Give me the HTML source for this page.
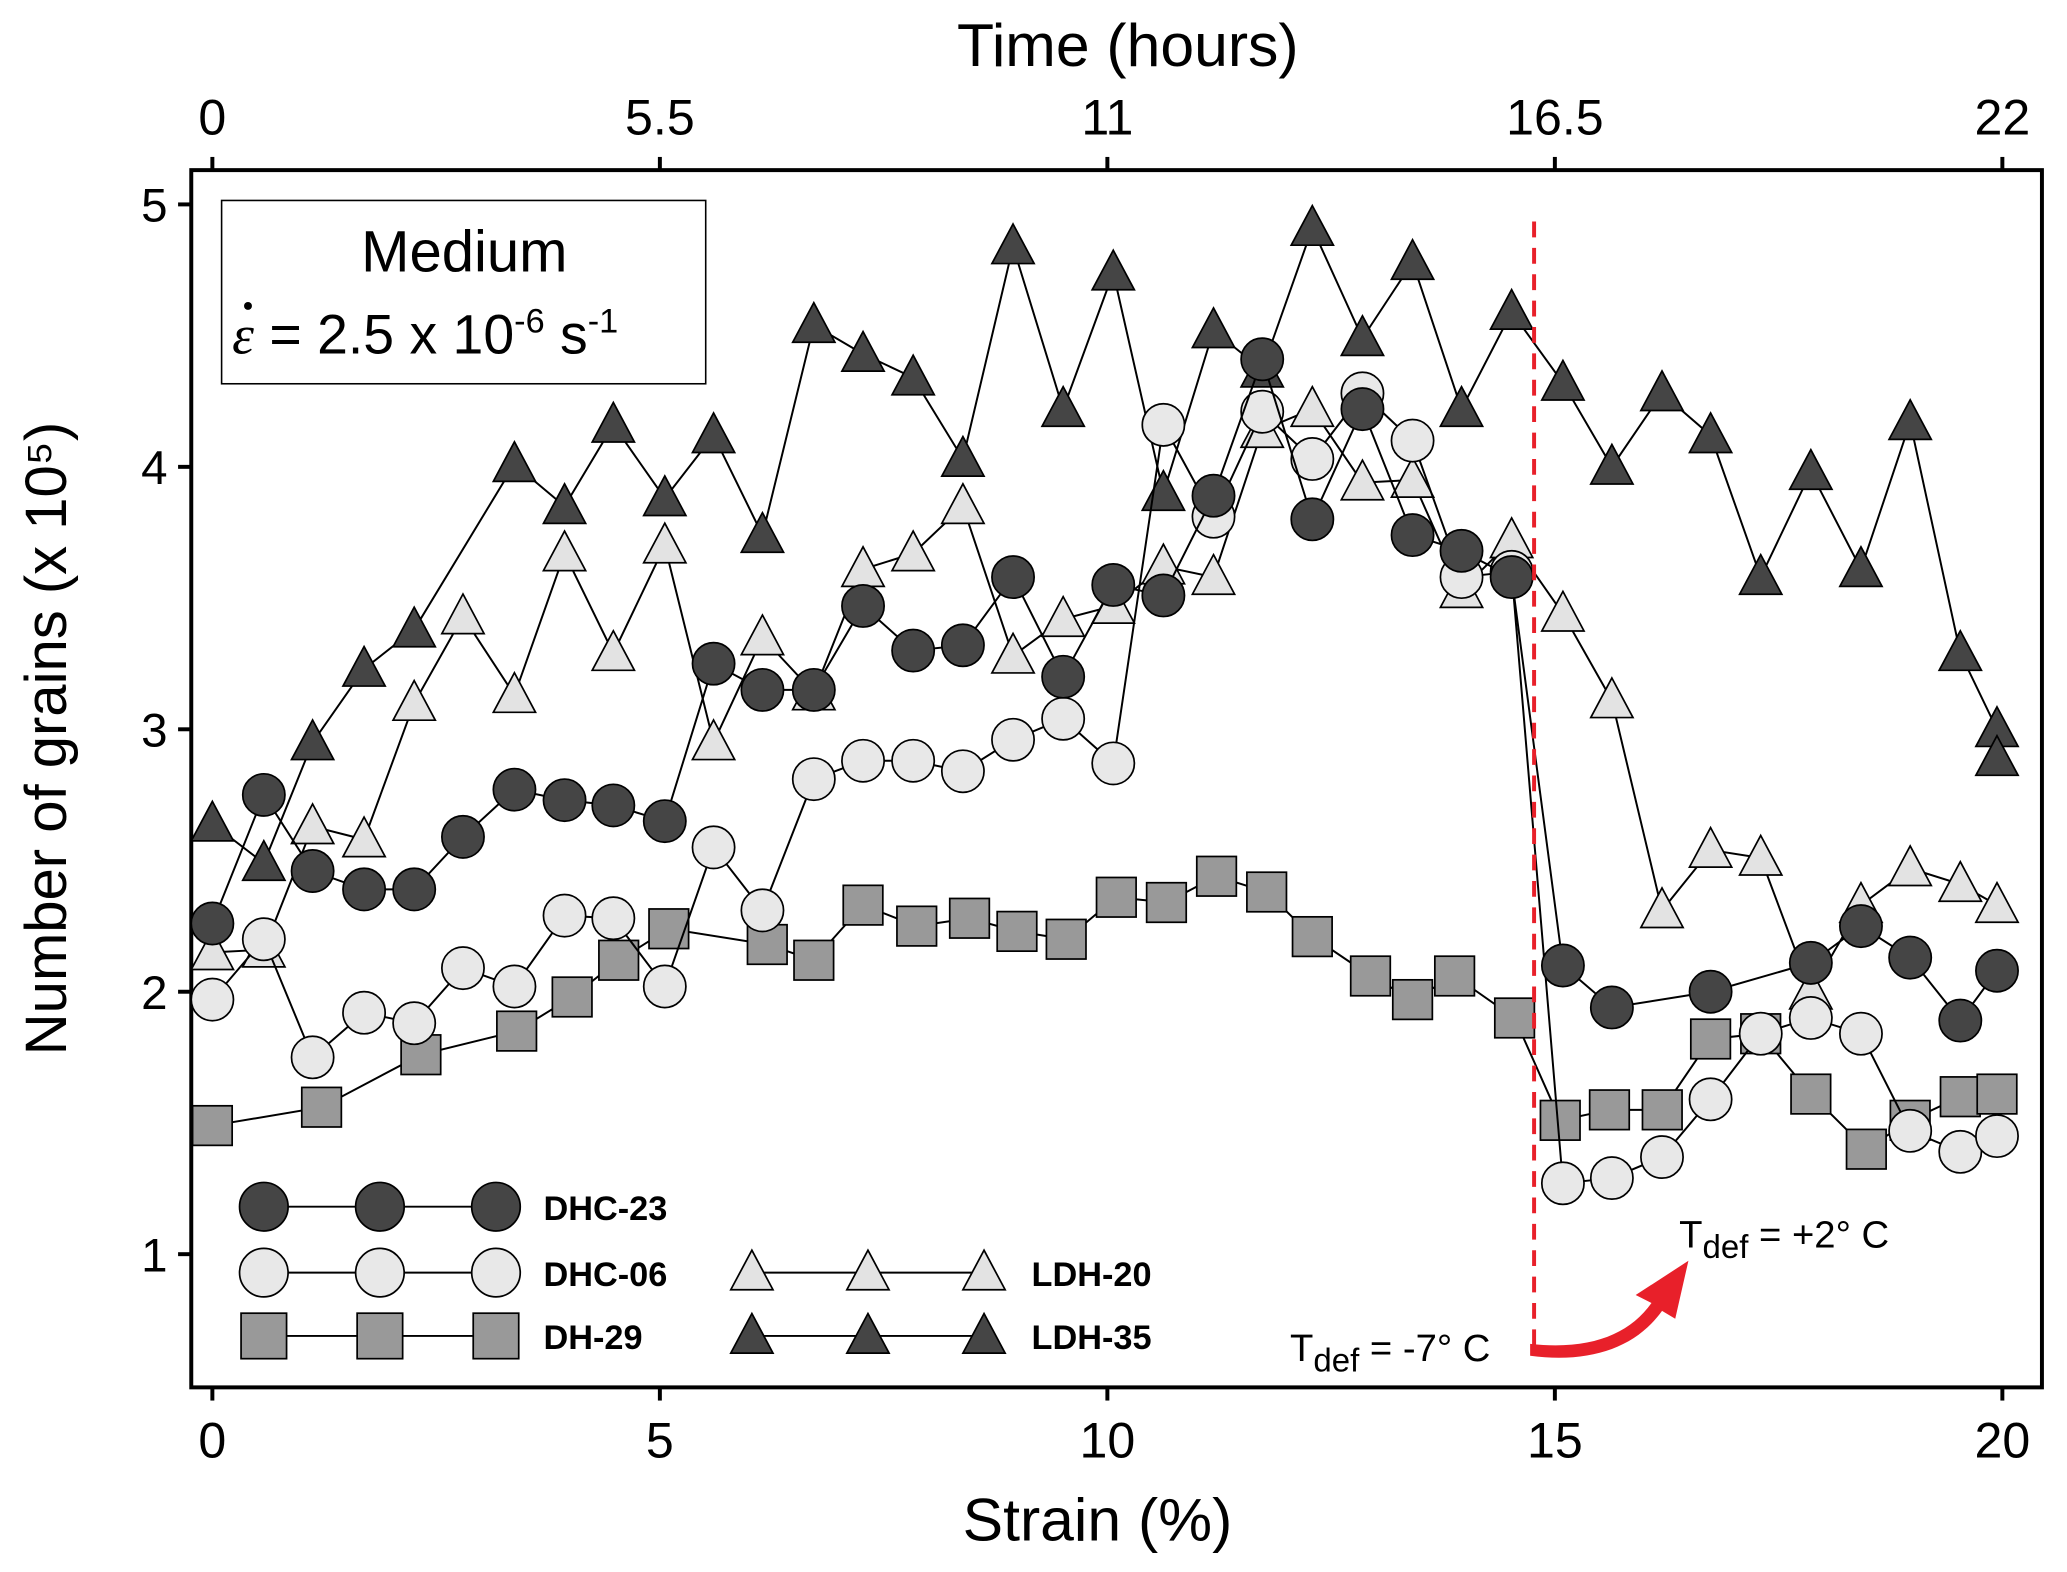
<!DOCTYPE html>
<html><head><meta charset="utf-8"><style>
html,body{margin:0;padding:0;background:#fff}
svg{display:block}
text{font-family:"Liberation Sans",Arial,sans-serif}
</style></head><body>
<svg id="chart" width="2067" height="1572" viewBox="0 0 1567 1192" preserveAspectRatio="none" xmlns="http://www.w3.org/2000/svg">
<rect x="0" y="0" width="1567" height="1192" fill="#fff"/>
<rect x="145" y="129" width="1403" height="923" fill="none" stroke="#000" stroke-width="3"/>
<g id="axes"></g>
<g id="series"></g>
<text x="855" y="50" font-size="46" text-anchor="middle">Time (hours)</text>
<text x="832" y="1168" font-size="46" text-anchor="middle">Strain (%)</text>
<text transform="translate(50,560) rotate(-90)" font-size="44" text-anchor="middle">Number of grains (x 10⁵)</text>
<g>
<rect x="168" y="152" width="367" height="139" fill="#fff" stroke="#000" stroke-width="1.2"/>
<text x="352" y="206" font-size="44" text-anchor="middle">Medium</text>
<text x="176" y="268" font-size="42"><tspan font-family="Liberation Serif" font-style="italic">ε</tspan> = 2.5 x 10<tspan dy="-16" font-size="26">-6</tspan><tspan dy="16"> s</tspan><tspan dy="-16" font-size="26">-1</tspan></text>
<circle cx="188" cy="232" r="3" fill="#000"/>
</g>
<line x1="1163" y1="168" x2="1163" y2="1025" stroke="#e8202a" stroke-width="3" stroke-dasharray="12,8"/>
<path d="M1160,1019 C1205,1024 1235,1012 1252,988 L1240,982 L1280,956 L1270,1000 L1260,994 C1240,1022 1205,1034 1160,1028 Z" fill="#e8202a"/>
<text x="978" y="1032" font-size="29">T<tspan font-size="25" dy="8">def</tspan><tspan dy="-8"> = -7° C</tspan></text>
<text x="1273" y="946" font-size="29">T<tspan font-size="25" dy="8">def</tspan><tspan dy="-8"> = +2° C</tspan></text>
<g id="legend"></g>
</svg>
<script>
const xTicks=[0,5,10,15,20];
const yTicks=[1,2,3,4,5];
const topTicks=[0,5.5,11,16.5,22];

const dhc23X=[0,0.575,1.12,1.695,2.255,2.8,3.375,3.935,4.48,5.055,5.6,6.146,6.72,7.27,7.83,8.386,8.946,9.506,10.066,10.626,11.186,11.73,12.29,12.85,13.41,13.957,14.517,15.09,15.637,16.74,17.86,18.42,18.97,19.53,19.94];
const dhc23Y=[2.26,2.75,2.46,2.39,2.39,2.59,2.77,2.73,2.71,2.65,3.25,3.15,3.15,3.47,3.3,3.32,3.58,3.2,3.55,3.51,3.89,4.41,3.8,4.22,3.74,3.68,3.58,2.1,1.94,2.0,2.11,2.25,2.13,1.89,2.08];
const dhc06X=[0,0.575,1.12,1.695,2.255,2.8,3.375,3.935,4.48,5.055,5.6,6.146,6.72,7.27,7.83,8.386,8.946,9.506,10.066,10.626,11.186,11.73,12.29,12.85,13.41,13.957,14.517,15.09,15.637,16.197,16.74,17.3,17.86,18.42,18.97,19.53,19.94];
const dhc06Y=[1.97,2.2,1.75,1.92,1.88,2.09,2.02,2.29,2.28,2.02,2.55,2.31,2.81,2.88,2.88,2.84,2.96,3.04,2.87,4.16,3.81,4.21,4.03,4.28,4.1,3.58,3.6,1.27,1.29,1.37,1.59,1.84,1.9,1.84,1.47,1.39,1.45];
const dh29X=[0,1.22,2.33,3.4,4.02,4.54,5.1,6.2,6.72,7.27,7.87,8.46,8.99,9.54,10.1,10.66,11.22,11.78,12.29,12.94,13.41,13.88,14.55,15.06,15.61,16.2,16.74,17.3,17.86,18.48,18.97,19.53,19.94];
const dh29Y=[1.49,1.56,1.76,1.85,1.98,2.12,2.24,2.18,2.12,2.33,2.25,2.28,2.23,2.2,2.36,2.34,2.44,2.38,2.21,2.06,1.97,2.06,1.9,1.51,1.55,1.55,1.82,1.84,1.61,1.4,1.51,1.6,1.61];
const ldh20X=[0,0.575,1.12,1.695,2.255,2.8,3.375,3.935,4.48,5.055,5.6,6.146,6.72,7.27,7.83,8.386,8.946,9.506,10.066,10.626,11.186,11.73,12.29,12.85,13.41,13.957,14.517,15.09,15.637,16.197,16.74,17.3,17.86,18.42,18.97,19.53,19.94];
const ldh20Y=[2.15,2.16,2.63,2.58,3.1,3.43,3.13,3.67,3.29,3.7,2.95,3.35,3.14,3.61,3.67,3.85,3.28,3.42,3.47,3.62,3.58,4.14,4.22,3.94,3.95,3.53,3.72,3.44,3.11,2.31,2.54,2.51,2.0,2.33,2.47,2.41,2.33];
const ldh35X=[0,0.575,1.12,1.695,2.255,3.375,3.935,4.48,5.055,5.6,6.146,6.72,7.27,7.83,8.386,8.946,9.506,10.066,10.626,11.186,11.73,12.29,12.85,13.41,13.957,14.517,15.09,15.637,16.197,16.74,17.3,17.86,18.42,18.97,19.53,19.94,19.94];
const ldh35Y=[2.64,2.49,2.95,3.23,3.38,4.01,3.85,4.16,3.88,4.12,3.74,4.54,4.43,4.34,4.03,4.84,4.22,4.74,3.9,4.52,4.37,4.91,4.49,4.78,4.22,4.59,4.32,4.0,4.28,4.12,3.58,3.98,3.61,4.17,3.29,3.0,2.89];

const NS='http://www.w3.org/2000/svg';
function X(s){return 161+s*(1518-161)/20;}
function XT(h){return 161+h*(1518-161)/22;}
function Y(v){return 155+(5-v)*199;}
function mk(tag,attrs,parent){const e=document.createElementNS(NS,tag);for(const k in attrs)e.setAttribute(k,attrs[k]);parent.appendChild(e);return e;}
const axes=document.getElementById('axes');
xTicks.forEach(t=>{
  const l=mk('line',{x1:X(t),x2:X(t),y1:1052,y2:1062,stroke:'#000','stroke-width':3},axes);
  
  
  const tx=mk('text',{x:X(t),y:1105,'font-size':38,'text-anchor':'middle'},axes);
  tx.textContent=t;
  
  
});
yTicks.forEach(t=>{
  const l=mk('line',{x1:135,x2:145,y1:Y(t),y2:Y(t),stroke:'#000','stroke-width':3},axes);
  
  
  const tx=mk('text',{x:127,y:Y(t)+13,'font-size':36,'text-anchor':'end'},axes);
  tx.textContent=t;
  
  
});
topTicks.forEach(t=>{
  const l=mk('line',{x1:XT(t),x2:XT(t),y1:119,y2:129,stroke:'#000','stroke-width':3},axes);
  
  
  const tx=mk('text',{x:XT(t),y:102,'font-size':38,'text-anchor':'middle'},axes);
  tx.textContent=t;
  
  
});
function marker(kind,fill,cx,cy,parent,sz){
  sz=sz||1;
  let e;
  if(kind==='circle')e=mk('circle',{cx:cx,cy:cy,r:16*sz,fill:fill,stroke:'#000','stroke-width':1.3},parent);
  else if(kind==='square')e=mk('rect',{x:cx-15*sz,y:cy-15*sz,width:30*sz,height:30*sz,fill:fill,stroke:'#000','stroke-width':1.3},parent);
  else e=mk('polygon',{points:(cx)+','+(cy-17*sz)+' '+(cx+16*sz)+','+(cy+13*sz)+' '+(cx-16*sz)+','+(cy+13*sz),fill:fill,stroke:'#000','stroke-width':1.3},parent);
  return e;
}
const seriesList=[
  {name:'ldh-35',xs:ldh35X,ys:ldh35Y,kind:'tri',fill:'#454545'},
  {name:'dh-29',xs:dh29X,ys:dh29Y,kind:'square',fill:'#999'},
  {name:'ldh-20',xs:ldh20X,ys:ldh20Y,kind:'tri',fill:'#e3e3e3'},
  {name:'dhc-06',xs:dhc06X,ys:dhc06Y,kind:'circle',fill:'#e8e8e8'},
  {name:'dhc-23',xs:dhc23X,ys:dhc23Y,kind:'circle',fill:'#454545'}
];
const sg=document.getElementById('series');
seriesList.forEach(s=>{
  const g=mk('g',{},sg);
  
  
  const pts=s.xs.map((x,i)=>X(x)+','+Y(s.ys[i])).join(' ');
  const pl=mk('polyline',{points:pts,fill:'none',stroke:'#000','stroke-width':1.5},g);
  
  
  s.xs.forEach((x,i)=>{
    const m=marker(s.kind,s.fill,X(x),Y(s.ys[i]),g);
    
    
  });
});
const lg=document.getElementById('legend');
const legendItems=[
  {label:'DHC-23',kind:'circle',fill:'#454545',x:200,y:915},
  {label:'DHC-06',kind:'circle',fill:'#e8e8e8',x:200,y:965},
  {label:'DH-29',kind:'square',fill:'#999',x:200,y:1013},
  {label:'LDH-20',kind:'tri',fill:'#e3e3e3',x:570,y:965},
  {label:'LDH-35',kind:'tri',fill:'#454545',x:570,y:1013}
];
legendItems.forEach(it=>{
  const g=mk('g',{},lg);
  
  
  mk('line',{x1:it.x,x2:it.x+176,y1:it.y,y2:it.y,stroke:'#000','stroke-width':1.5},g);
  [0,88,176].forEach(d=>marker(it.kind,it.fill,it.x+d,it.y,g,it.kind==='tri'?1.0:1.15));
  const t=mk('text',{x:it.x+212,y:it.y+10,'font-size':26,'font-weight':'bold'},g);
  t.textContent=it.label;
});
</script>
</body></html>
